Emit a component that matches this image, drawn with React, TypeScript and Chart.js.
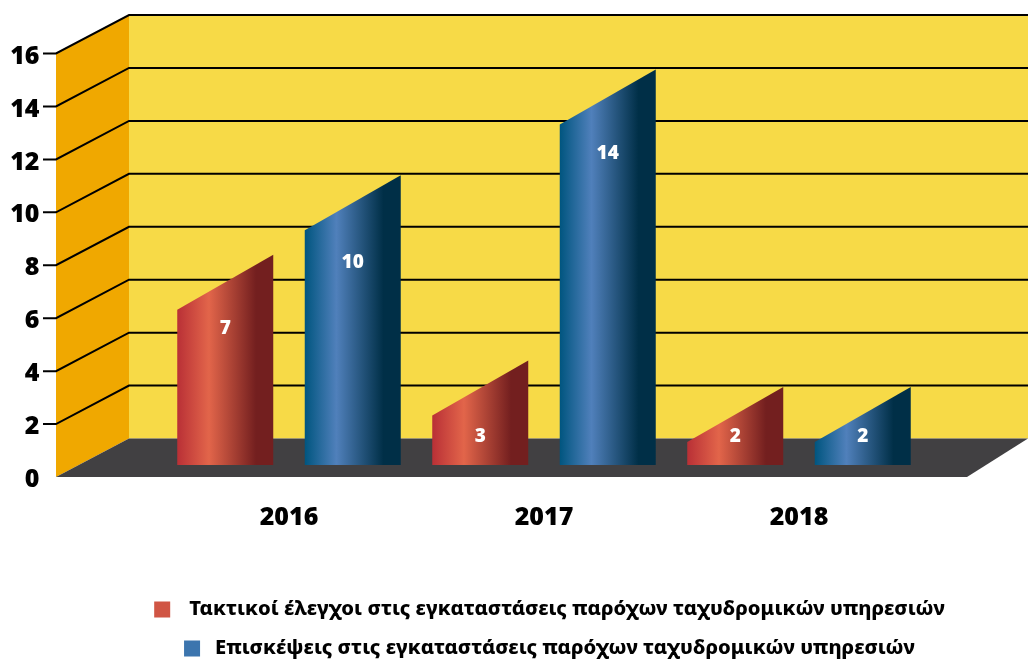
import React, { useEffect, useRef } from "react";
import { Chart, registerables } from "chart.js";

Chart.register(...registerables);

const categories = ["2016", "2017", "2018"];
const inspections = [7, 3, 2];
const visits = [10, 14, 2];
const inspectionLabel = "Τακτικοί έλεγχοι στις εγκαταστάσεις παρόχων ταχυδρομικών υπηρεσιών";
const visitLabel = "Επισκέψεις στις εγκαταστάσεις παρόχων ταχυδρομικών υπηρεσιών";

const FONT_NUM = '"Open Sans", sans-serif';
const FONT_LEGEND = '"Noto Sans", sans-serif';
const WALL = "#F7DA47";
const SIDE = "#F0A800";
const FLOOR = "#414042";
const DEPTH_X = 73;
const DEPTH_Y = 38.5;
const FRONT_LEFT = 56;
const FRONT_RIGHT = 967;
const BAR_SHIFT = 9.5;
const BAR_BASE_SHIFT = 12;
const SLANT = 27.5;
const LABEL_SHIFTS = [
  [46, 48, 22],
  [60, 57, 22],
];
const LEGEND_GAPS = [19, 15];
const GRADIENTS = [
  ["#B93036", "#E2654A", "#731F1F", "#731F1F"],
  ["#00557F", "#5080BB", "#002F47", "#002F47"],
];

const scene = {
  id: "scene",
  beforeDatasetsDraw(chart: any) {
    const { ctx, width, scales } = chart;
    const y = scales.y;
    const y0 = y.getPixelForValue(0);
    const yTop = y.getPixelForValue(y.max);
    const backX = FRONT_LEFT + DEPTH_X;
    ctx.save();
    ctx.fillStyle = WALL;
    ctx.fillRect(backX, yTop - DEPTH_Y, width - backX, y0 - yTop);
    ctx.fillStyle = SIDE;
    ctx.beginPath();
    ctx.moveTo(FRONT_LEFT, y0);
    ctx.lineTo(FRONT_LEFT, yTop);
    ctx.lineTo(backX, yTop - DEPTH_Y);
    ctx.lineTo(backX, y0 - DEPTH_Y);
    ctx.closePath();
    ctx.fill();
    ctx.fillStyle = FLOOR;
    ctx.beginPath();
    ctx.moveTo(FRONT_LEFT, y0);
    ctx.lineTo(FRONT_RIGHT, y0);
    ctx.lineTo(width, y0 - DEPTH_Y);
    ctx.lineTo(backX, y0 - DEPTH_Y);
    ctx.closePath();
    ctx.fill();
    ctx.strokeStyle = "#000";
    ctx.lineWidth = 2;
    for (const t of y.ticks) {
      if (t.value === 0) continue;
      const p = y.getPixelForValue(t.value);
      ctx.beginPath();
      ctx.moveTo(43, p);
      ctx.lineTo(FRONT_LEFT, p);
      ctx.lineTo(backX, p - DEPTH_Y);
      ctx.lineTo(width, p - DEPTH_Y);
      ctx.stroke();
    }
    ctx.restore();
  },
  beforeDatasetDraw(chart: any, args: any) {
    const { ctx } = chart;
    const meta = args.meta;
    ctx.save();
    meta.data.forEach((bar: any) => {
      const l = bar.x - bar.width / 2;
      const r = bar.x + bar.width / 2;
      const top = bar.y - BAR_SHIFT;
      const base = bar.base - BAR_BASE_SHIFT;
      const g = ctx.createLinearGradient(l, 0, r, 0);
      const stops = GRADIENTS[args.index];
      g.addColorStop(0, stops[0]);
      g.addColorStop(0.33, stops[1]);
      g.addColorStop(0.82, stops[2]);
      g.addColorStop(1, stops[3]);
      ctx.fillStyle = g;
      ctx.beginPath();
      ctx.moveTo(l, base);
      ctx.lineTo(l, top + SLANT);
      ctx.lineTo(r, top - SLANT);
      ctx.lineTo(r, base);
      ctx.closePath();
      ctx.fill();
    });
    ctx.restore();
    return false;
  },
  afterDatasetsDraw(chart: any) {
    const { ctx } = chart;
    ctx.save();
    ctx.fillStyle = "#fff";
    ctx.font = `800 19px ${FONT_NUM}`;
    ctx.textAlign = "center";
    ctx.textBaseline = "middle";
    chart.data.datasets.forEach((ds: any, d: number) => {
      chart.getDatasetMeta(d).data.forEach((bar: any, i: number) => {
        ctx.fillText(String(ds.data[i]), bar.x, bar.y - BAR_SHIFT + LABEL_SHIFTS[d][i]);
      });
    });
    ctx.restore();
  },
  afterDraw(chart: any) {
    const { ctx } = chart;
    const rowY = [609.5, 648.5];
    const center = 549.5;
    ctx.save();
    ctx.font = `800 20.2px ${FONT_LEGEND}`;
    ctx.textBaseline = "middle";
    ctx.textAlign = "left";
    chart.data.datasets.forEach((ds: any, d: number) => {
      const tw = ctx.measureText(ds.label).width;
      const box = 16;
      const gap = LEGEND_GAPS[d];
      const x = center - (box + gap + tw) / 2;
      ctx.fillStyle = ds.backgroundColor;
      ctx.fillRect(x, rowY[d] - box / 2, box, box);
      ctx.fillStyle = "#000";
      ctx.fillText(ds.label, x + box + gap, rowY[d]);
    });
    ctx.restore();
  },
};

export default function App() {
  const ref = useRef<HTMLCanvasElement>(null);
  useEffect(() => {
    const chart = new Chart(ref.current as HTMLCanvasElement, {
      type: "bar",
      data: {
        labels: categories,
        datasets: [
          { label: inspectionLabel, data: inspections, backgroundColor: "#D05544", categoryPercentage: 1, barPercentage: 0.753 },
          { label: visitLabel, data: visits, backgroundColor: "#3C75AE", categoryPercentage: 1, barPercentage: 0.753 },
        ],
      },
      options: {
        responsive: false,
        animation: false,
        layout: { padding: { top: 53.5, right: 101.5, bottom: 0, left: 0 } },
        plugins: { legend: { display: false }, tooltip: { enabled: false } },
        scales: {
          x: {
            grid: { display: false, drawTicks: false },
            border: { display: false },
            ticks: { color: "#000", padding: 26, font: { family: FONT_NUM, size: 25, weight: "800" }, maxRotation: 0 },
            afterFit(scale: any) {
              scale.height = 183;
            },
          },
          y: {
            min: 0,
            max: 16,
            grid: { display: false, drawTicks: false },
            border: { display: false },
            ticks: {
              stepSize: 2,
              color: "#000",
              padding: 122,
              font: { family: FONT_NUM, size: 25, weight: "800", lineHeight: "6px" },
              callback: (v: any) => ["", String(v)],
            },
            afterFit(scale: any) {
              scale.width = 161.5;
              scale.paddingTop = 0;
              scale.paddingBottom = 0;
            },
          },
        },
      },
      plugins: [scene],
    } as any);
    return () => chart.destroy();
  }, []);
  return (
    <div style={{ position: "absolute", left: 0, top: 0, width: 1028, height: 660, background: "#fff" }}>
      <canvas ref={ref} width={1028} height={660} style={{ display: "block" }} />
    </div>
  );
}
